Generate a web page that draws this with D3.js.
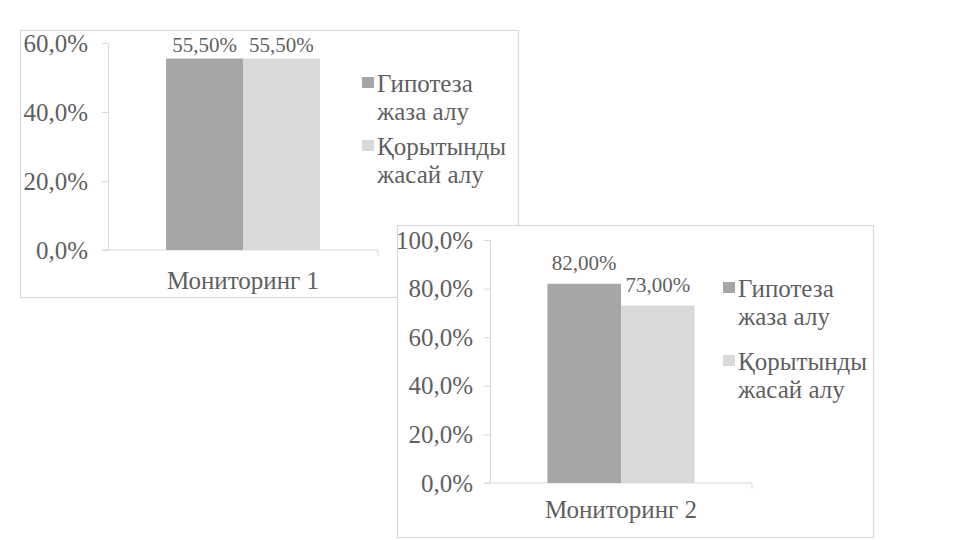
<!DOCTYPE html>
<html><head><meta charset="utf-8">
<script src="https://cdn.jsdelivr.net/npm/d3@7"></script>
<style>html,body{margin:0;padding:0;background:#fff;} svg{display:block;}</style>
</head><body>
<svg id="chart" width="960" height="540"></svg>
<script>
// ---- data ----
const seriesNames = [["Гипотеза", "жаза алу"], ["Қорытынды", "жасай алу"]];
const seriesColors = ["#a6a6a6", "#d9d9d9"];
const chart1Category = ["Мониторинг 1"];
const chart1Values = [55.5, 55.5];
const chart1Ticks = [0, 20, 40, 60];
const chart2Category = ["Мониторинг 2"];
const chart2Values = [82.0, 73.0];
const chart2Ticks = [0, 20, 40, 60, 80, 100];

const svg = d3.select("#chart");
const FONT = '"Liberation Serif"';
const TXT = "#5f5f5f";
const fmtTick = v => d3.format(".1f")(v).replace(".", ",") + "%";
const fmtLabel = v => d3.format(".2f")(v).replace(".", ",") + "%";

function styleText(sel, size) {
  return sel.style("font-family", FONT).style("font-size", size + "px").attr("fill", TXT);
}

function drawChart(cfg) {
  const g = svg.append("g");
  // frame
  g.append("rect").attr("x", cfg.box[0] + 0.5).attr("y", cfg.box[1] + 0.5)
    .attr("width", cfg.box[2]).attr("height", cfg.box[3])
    .attr("fill", "#fff").attr("stroke", "#d9d9d9").attr("stroke-width", 1.2);

  const y = d3.scaleLinear().domain([0, d3.max(cfg.ticks)]).range([cfg.plot.bottom, cfg.plot.top]);
  const x0 = d3.scaleBand().domain(cfg.category).range([cfg.plot.left, cfg.plot.right]).paddingInner(0).paddingOuter(cfg.outerPad);
  const x1 = d3.scaleBand().domain(d3.range(cfg.values.length)).range([0, x0.bandwidth()]);

  // y axis
  const yAxis = d3.axisLeft(y).tickValues(cfg.ticks).tickFormat(fmtTick).tickSize(6).tickPadding(cfg.tickPad);
  const ya = g.append("g").attr("transform", `translate(${cfg.plot.left},0)`).call(yAxis);
  ya.attr("font-family", null).attr("font-size", null);
  ya.select(".domain").attr("stroke", "#d9d9d9");
  ya.selectAll(".tick line").attr("stroke", "#d9d9d9");
  styleText(ya.selectAll(".tick text"), 25);

  // x axis baseline
  const xAxis = d3.axisBottom(x0).tickSize(0).tickFormat(() => "");
  const xa = g.append("g").attr("transform", `translate(0,${cfg.plot.bottom})`).call(xAxis);
  xa.select(".domain").attr("stroke", "#d9d9d9").attr("d", `M${cfg.plot.left - 6},0H${cfg.plot.right}V6`);

  // bars
  const barG = g.append("g").attr("transform", `translate(${x0(cfg.category[0])},0)`);
  barG.selectAll("rect").data(cfg.values).join("rect")
    .attr("x", (d, i) => x1(i)).attr("width", x1.bandwidth())
    .attr("y", d => y(d)).attr("height", d => y(0) - y(d))
    .attr("fill", (d, i) => seriesColors[i]);
  styleText(barG.selectAll("text").data(cfg.values).join("text"), 21)
    .attr("x", (d, i) => x1(i) + x1.bandwidth() / 2)
    .attr("y", d => Math.max(y(d) - cfg.labelOff, cfg.labelMinY))
    .attr("text-anchor", "middle")
    .text(d => fmtLabel(d));

  // category label
  styleText(g.append("text"), 25).attr("x", x0(cfg.category[0]) + x0.bandwidth() / 2).attr("y", cfg.catY)
    .attr("text-anchor", "middle").text(cfg.category[0]);

  // legend
  seriesNames.forEach((lines, i) => {
    const ly = cfg.legend.y + i * cfg.legend.gap;
    g.append("rect").attr("x", cfg.legend.x).attr("y", ly - 15).attr("width", 12).attr("height", 11)
      .attr("fill", seriesColors[i]);
    const t = styleText(g.append("text"), 25).attr("x", cfg.legend.x + 15).attr("y", ly);
    lines.forEach((l, j) => t.append("tspan").attr("x", cfg.legend.x + 15).attr("dy", j ? 28 : 0).text(l));
  });
}

drawChart({
  box: [20, 30, 498, 267],
  plot: { left: 108, right: 378, top: 43, bottom: 250 },
  ticks: chart1Ticks, values: chart1Values, category: chart1Category, outerPad: 0.377,
  tickPad: 14, labelOff: 8, labelMinY: 52, catY: 289,
  legend: { x: 362, y: 92, gap: 63 }
});
drawChart({
  box: [397, 225, 476, 312],
  plot: { left: 490, right: 752, top: 240, bottom: 483 },
  ticks: chart2Ticks, values: chart2Values, category: chart2Category, outerPad: 0.39,
  tickPad: 11, labelOff: 14, labelMinY: 0, catY: 518,
  legend: { x: 723, y: 297, gap: 73 }
});
</script>
</body></html>
